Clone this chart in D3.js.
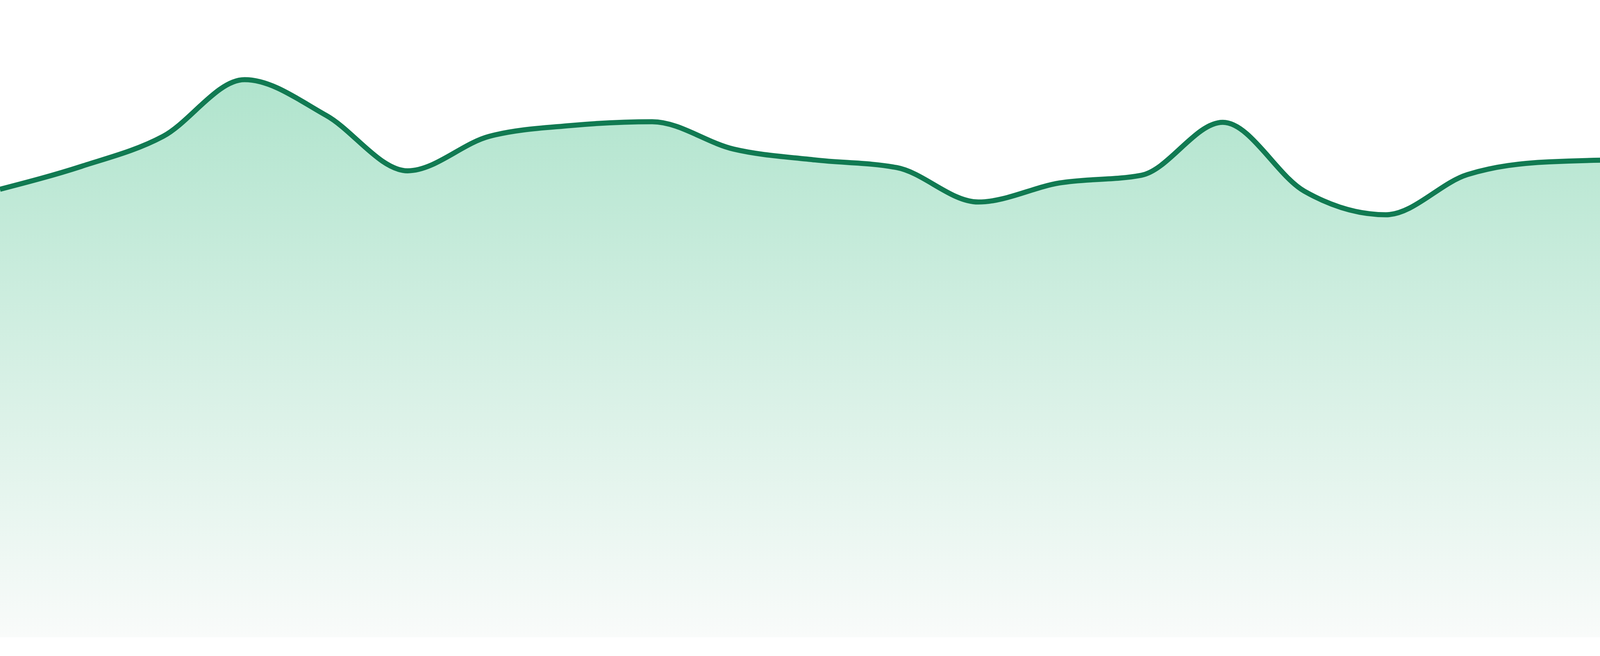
<!DOCTYPE html>
<html>
<head>
<meta charset="utf-8">
<script src="https://cdn.jsdelivr.net/npm/d3@7"></script>
<style>
  html, body { margin: 0; padding: 0; background: #ffffff; }
  svg { display: block; }
</style>
</head>
<body>
<div id="chart"></div>
<script>
// 24 evenly spaced samples, values on a 0-100 scale
const indexes = d3.range(24);
const values = [70.3, 73.9, 78.6, 87.5, 81.9, 73.2, 78.6, 80.3, 80.9, 76.6, 74.9, 73.7,
                68.3, 71.3, 72.5, 80.8, 70.0, 66.3, 72.6, 74.6, 74.9, 71.9, 75.7, 68.3];
const yDomain = [0, 100];

const width = 4800;
const height = 1680;
const baseline = 1632;

const data = indexes.map(i => ({ i, v: values[i] }));

const svg = d3.select('#chart')
    .append('svg')
    .attr('width', width)
    .attr('height', height);

const xScale = d3.scaleLinear()
    .domain([0, indexes.length - 1])
    .range([0, width]);

const yScale = d3.scaleLinear()
    .domain(yDomain)
    .range([baseline, 0]);

// fill gradient, fades out toward the bottom
const grad = svg.append('defs')
    .append('linearGradient')
    .attr('id', 'fade')
    .attr('x1', 0).attr('y1', 0)
    .attr('x2', 0).attr('y2', 1);
grad.append('stop').attr('offset', '0%').attr('stop-color', '#b0e4cd');
grad.append('stop').attr('offset', '100%').attr('stop-color', '#f9fbfa');

const area = d3.area()
    .x(d => xScale(d.i))
    .y0(yScale(0))
    .y1(d => yScale(d.v))
    .curve(d3.curveMonotoneX);

const line = d3.line()
    .x(d => xScale(d.i))
    .y(d => yScale(d.v))
    .curve(d3.curveMonotoneX);

svg.append('path')
    .datum(data)
    .attr('d', area)
    .attr('fill', 'url(#fade)');

svg.append('path')
    .datum(data)
    .attr('d', line)
    .attr('fill', 'none')
    .attr('stroke', '#117a52')
    .attr('stroke-width', 13);
</script>
</body>
</html>
